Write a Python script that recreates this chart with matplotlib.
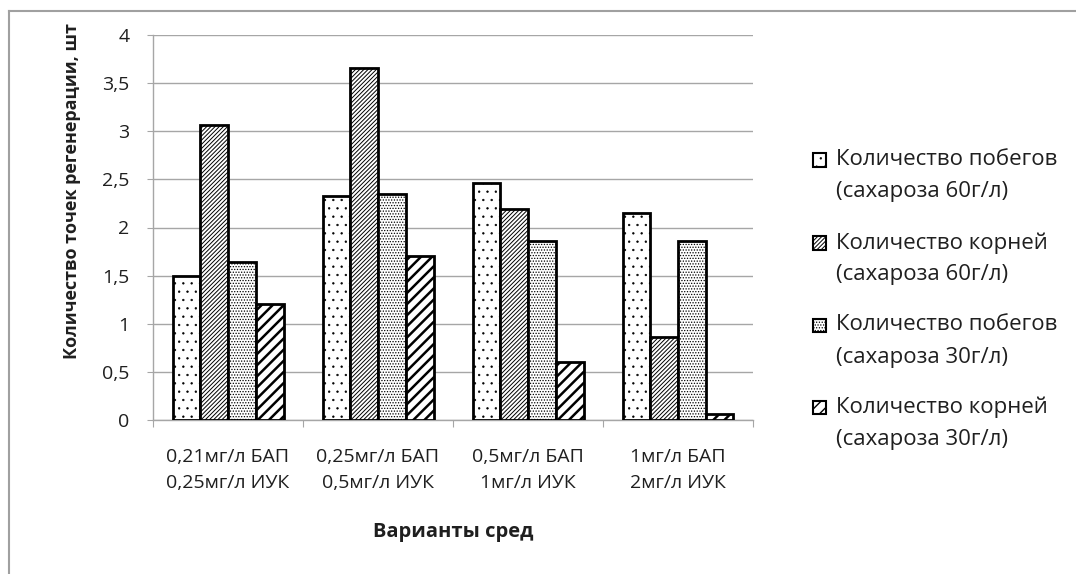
import matplotlib.pyplot as plt
from matplotlib.patches import Rectangle
from matplotlib.lines import Line2D
import numpy as np

plt.rcParams['font.family'] = ['Open Sans', 'DejaVu Sans']

# media variants (x categories)
media = ["0,21мг/л БАП\n0,25мг/л ИУК",
         "0,25мг/л БАП\n0,5мг/л ИУК",
         "0,5мг/л БАП\n1мг/л ИУК",
         "1мг/л БАП\n2мг/л ИУК"]

series_names = ["Количество побегов\n(сахароза 60г/л)",
                "Количество корней\n(сахароза 60г/л)",
                "Количество побегов\n(сахароза 30г/л)",
                "Количество корней\n(сахароза 30г/л)"]

shoots_60 = [1.50, 2.33, 2.46, 2.15]
roots_60 = [3.06, 3.66, 2.19, 0.86]
shoots_30 = [1.64, 2.35, 1.86, 1.86]
roots_30 = [1.21, 1.70, 0.60, 0.06]

y_ticks = [0, 0.5, 1, 1.5, 2, 2.5, 3, 3.5, 4]
y_tick_labels = ["0", "0,5", "1", "1,5", "2", "2,5", "3", "3,5", "4"]

hatches = ['..', '////////', '......', '///']
hatch_lws = [0.45, 0.7, 0.6, 1.8]

text_col = '#1f1f1f'
grid_col = '#a6a6a6'

fig = plt.figure(figsize=(10.76, 5.74), dpi=100)
W, H = 1076, 574
ax = fig.add_axes([153 / W, 1 - 420 / H, 600 / W, 385 / H])

x = np.arange(1, len(media) + 1)
bw = 0.185
all_series = [shoots_60, roots_60, shoots_30, roots_30]
for i, vals in enumerate(all_series):
    plt.rcParams['hatch.linewidth'] = hatch_lws[i]
    bars = ax.bar(x + (i - 1.5) * bw, vals, width=bw, color='white',
                  edgecolor='black', linewidth=2.0, hatch=hatches[i], zorder=3)
    for b in bars:
        if hasattr(b, 'set_hatch_linewidth'):
            b.set_hatch_linewidth(hatch_lws[i])

ax.set_xlim(0.5, 4.5)
ax.set_ylim(0, 4)
ax.set_yticks(y_ticks)
ax.set_yticklabels(y_tick_labels)
ax.yaxis.grid(True, color=grid_col, linewidth=1.0, zorder=0)
ax.set_axisbelow(True)
for s in ['top', 'right']:
    ax.spines[s].set_visible(False)
for s in ['left', 'bottom']:
    ax.spines[s].set_color(grid_col)
    ax.spines[s].set_linewidth(1.0)

ax.tick_params(axis='y', length=4, color=grid_col, pad=13,
               labelsize=14, labelcolor=text_col)
ax.set_xticks(np.arange(0.5, 4.6, 1.0))
ax.set_xticklabels([])
ax.tick_params(axis='x', which='major', length=5, color=grid_col)
ax.set_xticks(x, minor=True)
ax.set_xticklabels(media, minor=True)
ax.tick_params(axis='x', which='minor', length=0, pad=20,
               labelsize=14, labelcolor=text_col)
for lbl in ax.get_xticklabels(minor=True):
    lbl.set_linespacing(1.6)

# axis titles
fig.text(453 / W, 1 - 532 / H, "Варианты сред", ha='center', va='center',
         fontsize=14.5, fontweight='bold', color=text_col)
fig.text(72 / W, 1 - 191 / H, "Количество точек регенерации, шт",
         rotation=90, ha='center', va='center', fontsize=13,
         fontweight='bold', color=text_col)

# legend drawn by hand so the swatch sits on the first label line
leg_y = [160, 243, 325, 407]
for i, name in enumerate(series_names):
    y0 = leg_y[i]
    plt.rcParams['hatch.linewidth'] = min(hatch_lws[i], 1.0)
    sw = Rectangle((813 / W, 1 - (y0 + 6.5) / H), 13 / W, 13 / H,
                   transform=fig.transFigure, facecolor='white',
                   edgecolor='black', linewidth=1.5, hatch=hatches[i])
    fig.add_artist(sw)
    for k, line in enumerate(name.split("\n")):
        fig.text(836 / W, 1 - (y0 + 32 * k) / H, line, ha='left', va='center',
                 fontsize=16, color=text_col)

# outer chart frame (top and left edges)
fig.add_artist(Line2D([9 / W, 1], [1 - 11 / H, 1 - 11 / H],
                      transform=fig.transFigure, color='#a0a0a0', linewidth=1.5))
fig.add_artist(Line2D([9 / W, 9 / W], [0, 1 - 11 / H],
                      transform=fig.transFigure, color='#a0a0a0', linewidth=1.5))

fig.savefig("out.png", dpi=100)
